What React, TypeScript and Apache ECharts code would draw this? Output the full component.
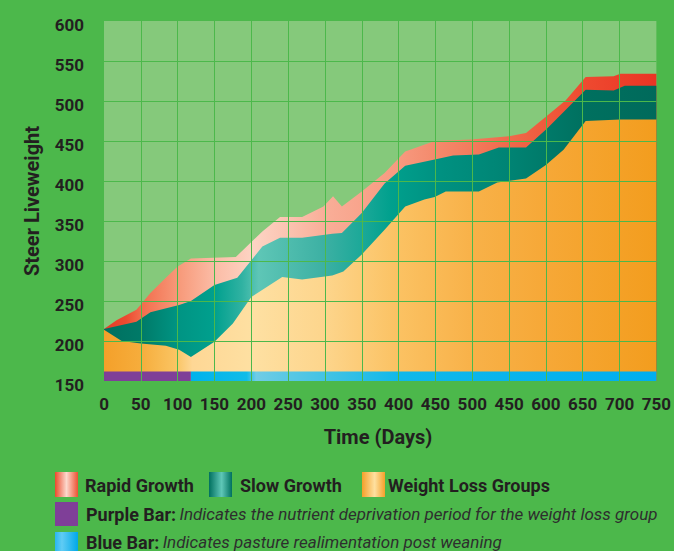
import React, { useEffect, useRef } from "react";
import * as echarts from "echarts";

// ---------- data ----------
const xTickLabels = ["0", "50", "100", "150", "200", "250", "300", "350", "400", "450", "500", "450", "600", "650", "700", "750"];

const rapidDays = [0, 17, 44, 63, 84, 100, 118, 179, 215, 239, 269, 298, 311, 323, 350, 381, 409, 449, 498, 550, 573, 602, 627, 654, 692, 701, 750];
const rapidWeights = [215, 226, 239, 260, 279, 293, 303, 305, 337, 355, 355, 368, 381, 368, 387, 410, 437, 450, 452, 456, 460, 482, 501, 530, 531, 534, 534];

const slowDays = [0, 44, 63, 102, 118, 150, 181, 215, 239, 269, 310, 323, 350, 381, 409, 449, 474, 509, 536, 573, 602, 627, 654, 692, 707, 750];
const slowWeights = [215, 224, 236, 245, 250, 270, 279, 318, 329, 329, 334, 335, 360, 397, 419, 427, 432, 433, 442, 442, 466, 489, 514, 513, 519, 519];

const lossDays = [0, 24, 50, 84, 102, 118, 150, 175, 200, 242, 269, 310, 325, 350, 381, 409, 435, 449, 464, 509, 534, 573, 600, 624, 654, 701, 750];
const lossWeights = [214, 200, 197, 194, 189, 180, 199, 222, 255, 280, 277, 282, 287, 308, 339, 368, 377, 380, 387, 387, 398, 403, 420, 439, 475, 477, 477];

const periodStarts = [0, 118];
const periodEnds = [118, 750];
const periodLow = 150;
const periodHigh = 162;

const seriesNames = ["Rapid Growth", "Slow Growth", "Weight Loss Groups"];

// ---------- styles ----------
const BG = "#4cb84b";
const PLOT_BG = "#85c97b";
const TEXT = "#231f20";
const FONT = "Roboto";

const lg = (stops: [number, string][]) =>
  new echarts.graphic.LinearGradient(0, 0, 1, 0, stops.map(([offset, color]) => ({ offset, color })));

const rapidFill = () =>
  lg([
    [0, "#e63a28"], [0.04, "#ec4a30"], [0.067, "#f26c4c"], [0.133, "#f79878"], [0.2, "#fbbca6"],
    [0.27, "#fdd4c4"], [0.33, "#fbc4b2"], [0.4, "#f9ae98"], [0.53, "#f79a80"], [0.6, "#f48a6c"],
    [0.67, "#f27a5c"], [0.73, "#f06a4c"], [0.8, "#ef5a3c"], [0.87, "#ee4a30"], [1, "#ea3424"],
  ]);
const slowFill = () =>
  lg([
    [0, "#006f5f"], [0.067, "#007a68"], [0.133, "#009483"], [0.2, "#00a08e"], [0.25, "#30b2a2"],
    [0.28, "#5ec6b6"], [0.4, "#3cb0a3"], [0.47, "#1aa898"], [0.52, "#00a08d"], [0.6, "#009282"],
    [0.73, "#008474"], [0.87, "#00705f"], [1, "#006a5b"],
  ]);
const lossFill = () =>
  lg([
    [0, "#f4a02a"], [0.067, "#f6ad3c"], [0.13, "#fac462"], [0.16, "#fed795"], [0.27, "#fee0a2"],
    [0.4, "#fdd58c"], [0.53, "#fbc263"], [0.67, "#f8b148"], [0.8, "#f6a837"], [1, "#f39d1e"],
  ]);
const blueBarFill = () =>
  lg([
    [0, "#00b2ec"], [0.12, "#10bce8"], [0.14, "#70cce6"], [0.2, "#5cc8e4"], [0.3, "#40c2e4"],
    [0.45, "#10b8ea"], [1, "#00aeef"],
  ]);
const PURPLE = "#7f3f98";

export default function App() {
  const ref = useRef<HTMLDivElement>(null);

  useEffect(() => {
    if (!ref.current) return;
    const chart = echarts.init(ref.current, undefined, { renderer: "svg" });

    const areaSeries = (name: string, days: number[], vals: number[], fill: any) => ({
      name,
      type: "line",
      data: days.map((d, i) => [d, vals[i]]),
      showSymbol: false,
      symbol: "none",
      lineStyle: { width: 0 },
      areaStyle: { color: fill, opacity: 1, origin: "start" },
      z: 2,
      silent: true,
    });

    const legendRow = 485;
    const sw = (x: number, y: number, h: number, fill: any) => ({
      type: "rect",
      shape: { x, y, width: 23, height: h },
      style: { fill },
    });
    const label = (x: number, y: number, text: string) => ({
      type: "text",
      x,
      y,
      style: { text, fontFamily: FONT, fontWeight: "bold", fontSize: 18, fill: TEXT, align: "left", verticalAlign: "middle" },
    });
    const richLabel = (x: number, y: number, bold: string, italic: string) => ({
      type: "text",
      x,
      y,
      style: {
        text: `{b|${bold}} {i|${italic}}`,
        align: "left",
        verticalAlign: "middle",
        rich: {
          b: { fontFamily: FONT, fontWeight: "bold", fontSize: 18, fill: TEXT, color: TEXT },
          i: { fontFamily: FONT, fontStyle: "italic", fontWeight: "normal", fontSize: 17, fill: "#2e2e2e", color: "#2e2e2e" },
        },
      },
    });

    chart.setOption({
      animation: false,
      backgroundColor: BG,
      grid: { left: 104, top: 21, right: 14, bottom: 170, show: true, backgroundColor: PLOT_BG, borderWidth: 0 },
      xAxis: {
        type: "value",
        min: 0,
        max: 750,
        interval: 50,
        z: 5,
        axisLine: { show: false },
        axisTick: { show: false },
        splitLine: { show: true, showMinLine: false, showMaxLine: false, lineStyle: { color: BG, width: 1 } },
        axisLabel: {
          margin: 14,
          color: TEXT,
          fontFamily: FONT,
          fontWeight: "bold",
          fontSize: 17,
          showMinLabel: true,
          showMaxLabel: true,
          formatter: (v: number) => xTickLabels[Math.round(v / 50)] ?? "",
        },
      },
      yAxis: {
        type: "value",
        min: 150,
        max: 600,
        interval: 50,
        z: 5,
        axisLine: { show: false },
        axisTick: { show: false },
        splitLine: { show: true, showMinLine: false, showMaxLine: false, lineStyle: { color: BG, width: 1 } },
        axisLabel: {
          margin: 20,
          formatter: "{v|{value}}",
          rich: {
            v: {
              color: TEXT,
              fontFamily: FONT,
              fontWeight: "bold",
              fontSize: 17,
              padding: [8, 0, 0, 0],
            },
          },
        },
      },
      series: [
        areaSeries(seriesNames[0], rapidDays, rapidWeights, rapidFill()),
        areaSeries(seriesNames[1], slowDays, slowWeights, slowFill()),
        areaSeries(seriesNames[2], lossDays, lossWeights, lossFill()),
        {
          type: "custom",
          name: "Periods",
          z: 3,
          silent: true,
          clip: false,
          encode: { x: [0, 1] },
          data: periodStarts.map((s, i) => [s, periodEnds[i]]),
          renderItem: (params: any, api: any) => {
            const s = api.value(0);
            const e = api.value(1);
            const p1 = api.coord([s, periodHigh]);
            const p2 = api.coord([e, periodLow]);
            return {
              type: "rect",
              shape: { x: p1[0], y: p1[1], width: p2[0] - p1[0], height: p2[1] - p1[1] },
              style: { fill: params.dataIndex === 0 ? PURPLE : blueBarFill() },
            };
          },
        },
      ],
      graphic: [
        {
          type: "text",
          x: 32,
          y: 201,
          rotation: Math.PI / 2,
          style: { text: "Steer Liveweight", fontFamily: FONT, fontWeight: "bold", fontSize: 20, fill: TEXT, align: "center", verticalAlign: "middle" },
        },
        {
          type: "text",
          x: 378,
          y: 437,
          style: { text: "Time (Days)", fontFamily: FONT, fontWeight: "bold", fontSize: 20, fill: TEXT, align: "center", verticalAlign: "middle" },
        },
        sw(55, 472, 25, lg([[0, "#ec4a2c"], [0.5, "#fcd8cc"], [1, "#ec5232"]])),
        label(85, legendRow, seriesNames[0]),
        sw(209, 472, 25, lg([[0, "#00705f"], [0.55, "#5fc7b7"], [1, "#00705f"]])),
        label(240, legendRow, seriesNames[1]),
        sw(362, 472, 25, lg([[0, "#f5a02a"], [0.55, "#fee0a0"], [1, "#f5a02a"]])),
        label(388, legendRow, seriesNames[2]),
        sw(55, 502, 24, PURPLE),
        richLabel(86, 514, "Purple Bar:", "Indicates the nutrient deprivation period for the weight loss group"),
        sw(55, 532, 24, lg([[0, "#29b6f0"], [0.3, "#60ccf4"], [1, "#00a8e8"]])),
        richLabel(86, 542, "Blue Bar:", "Indicates pasture realimentation post weaning"),
      ],
    });

    return () => chart.dispose();
  }, []);

  return <div ref={ref} style={{ position: "fixed", left: 0, top: 0, width: 674, height: 551 }} />;
}
